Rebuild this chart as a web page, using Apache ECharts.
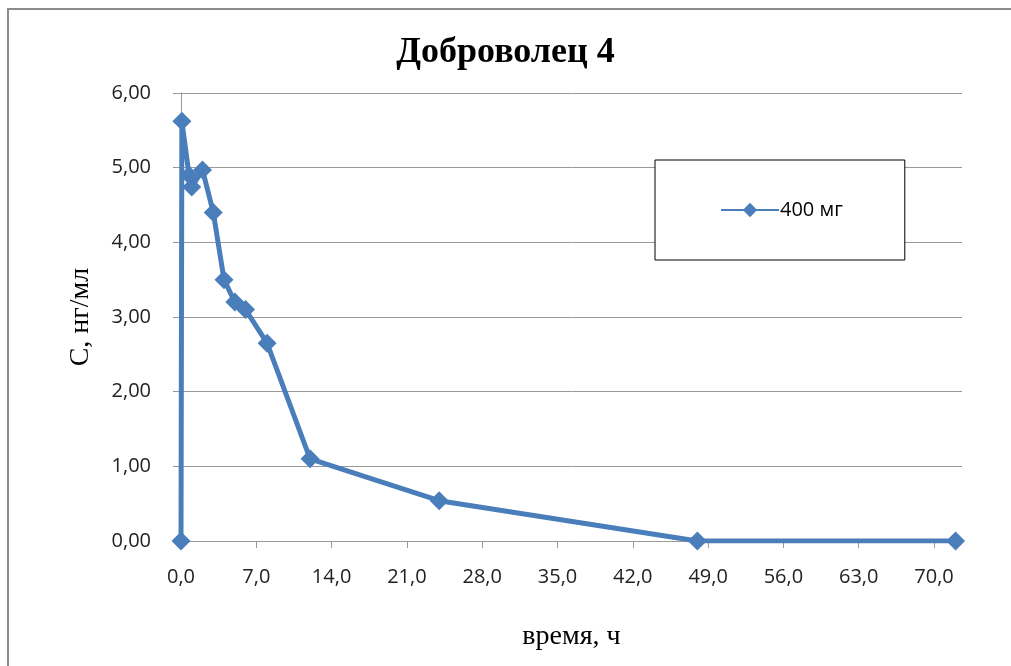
<!DOCTYPE html>
<html>
<head>
<meta charset="utf-8">
<script src="https://cdn.jsdelivr.net/npm/echarts@6/dist/echarts.min.js"></script>
<style>
  html, body { margin: 0; padding: 0; background: #fff; }
  #chart { width: 1011px; height: 666px; }
</style>
</head>
<body>
<div id="chart"></div>
<script>
// время, ч / концентрация, нг/мл
var times = [0, 0.08, 0.75, 1, 2, 3, 4, 5, 6, 8, 12, 24, 48, 72];
var conc = [0, 5.62, 4.9, 4.74, 4.97, 4.4, 3.5, 3.2, 3.1, 2.65, 1.1, 0.54, 0, 0];
var seriesName = '400 мг';

function comma(v, d) {
  return v.toFixed(d).replace('.', ',');
}

var chartDom = document.getElementById('chart');
var myChart = echarts.init(chartDom);
var option;

var points = times.map(function (t, i) { return [t, conc[i]]; });

option = {
  backgroundColor: '#fff',
  animation: false,
  graphic: [
    {
      type: 'rect',
      shape: { x: 8, y: 9, width: 1100, height: 800 },
      style: { fill: 'none', stroke: '#8c8c8c', lineWidth: 2 },
      silent: true
    }
  ],
  title: {
    text: 'Доброволец 4',
    left: 'center',
    top: 30,
    textStyle: {
      fontFamily: 'Liberation Serif',
      fontWeight: 'bold',
      fontSize: 36,
      color: '#000'
    }
  },
  legend: {
    left: 655,
    top: 160,
    orient: 'vertical',
    backgroundColor: '#fff',
    borderColor: '#000',
    borderWidth: 1,
    borderRadius: 0,
    padding: [40, 62, 40, 65],
    itemWidth: 58,
    itemHeight: 18,
    itemGap: 0,
    textStyle: {
      fontFamily: 'Open Sans',
      fontSize: 20,
      color: '#000',
      padding: [0, 0, 0, -4]
    },
    data: [seriesName]
  },
  grid: {
    left: 181,
    right: 49,
    top: 93,
    bottom: 125,
    containLabel: false
  },
  xAxis: {
    type: 'value',
    min: 0,
    max: 72.6,
    interval: 7,
    name: 'время, ч',
    nameLocation: 'middle',
    nameGap: 82,
    nameTextStyle: {
      fontFamily: 'Liberation Serif',
      fontSize: 28,
      color: '#000'
    },
    axisLine: { show: true, lineStyle: { color: '#999', width: 1 } },
    axisTick: { show: true, inside: false, length: 7, lineStyle: { color: '#999' } },
    splitLine: { show: false },
    axisLabel: {
      showMaxLabel: false,
      margin: 26,
      fontFamily: 'Open Sans',
      fontSize: 20,
      color: '#222',
      formatter: function (v) { return comma(v, 1); }
    }
  },
  yAxis: {
    type: 'value',
    min: 0,
    max: 6,
    interval: 1,
    name: 'С, нг/мл',
    nameLocation: 'middle',
    nameGap: 86,
    nameRotate: 90,
    nameTextStyle: {
      fontFamily: 'Liberation Serif',
      fontSize: 28,
      color: '#000'
    },
    axisLine: { show: true, lineStyle: { color: '#999', width: 1 } },
    axisTick: { show: true, inside: false, length: 8, lineStyle: { color: '#999' } },
    splitLine: { show: true, lineStyle: { color: '#999', width: 1 } },
    axisLabel: {
      margin: 30,
      fontFamily: 'Open Sans',
      fontSize: 20,
      color: '#222',
      formatter: function (v) { return comma(v, 2); }
    }
  },
  series: [
    {
      name: seriesName,
      type: 'line',
      data: points,
      symbol: 'diamond',
      symbolSize: 19,
      showAllSymbol: true,
      color: '#4a7ebb',
      lineStyle: { width: 5, color: '#4a7ebb' },
      itemStyle: { color: '#4a7ebb' }
    }
  ]
};

option && myChart.setOption(option);
</script>
</body>
</html>
